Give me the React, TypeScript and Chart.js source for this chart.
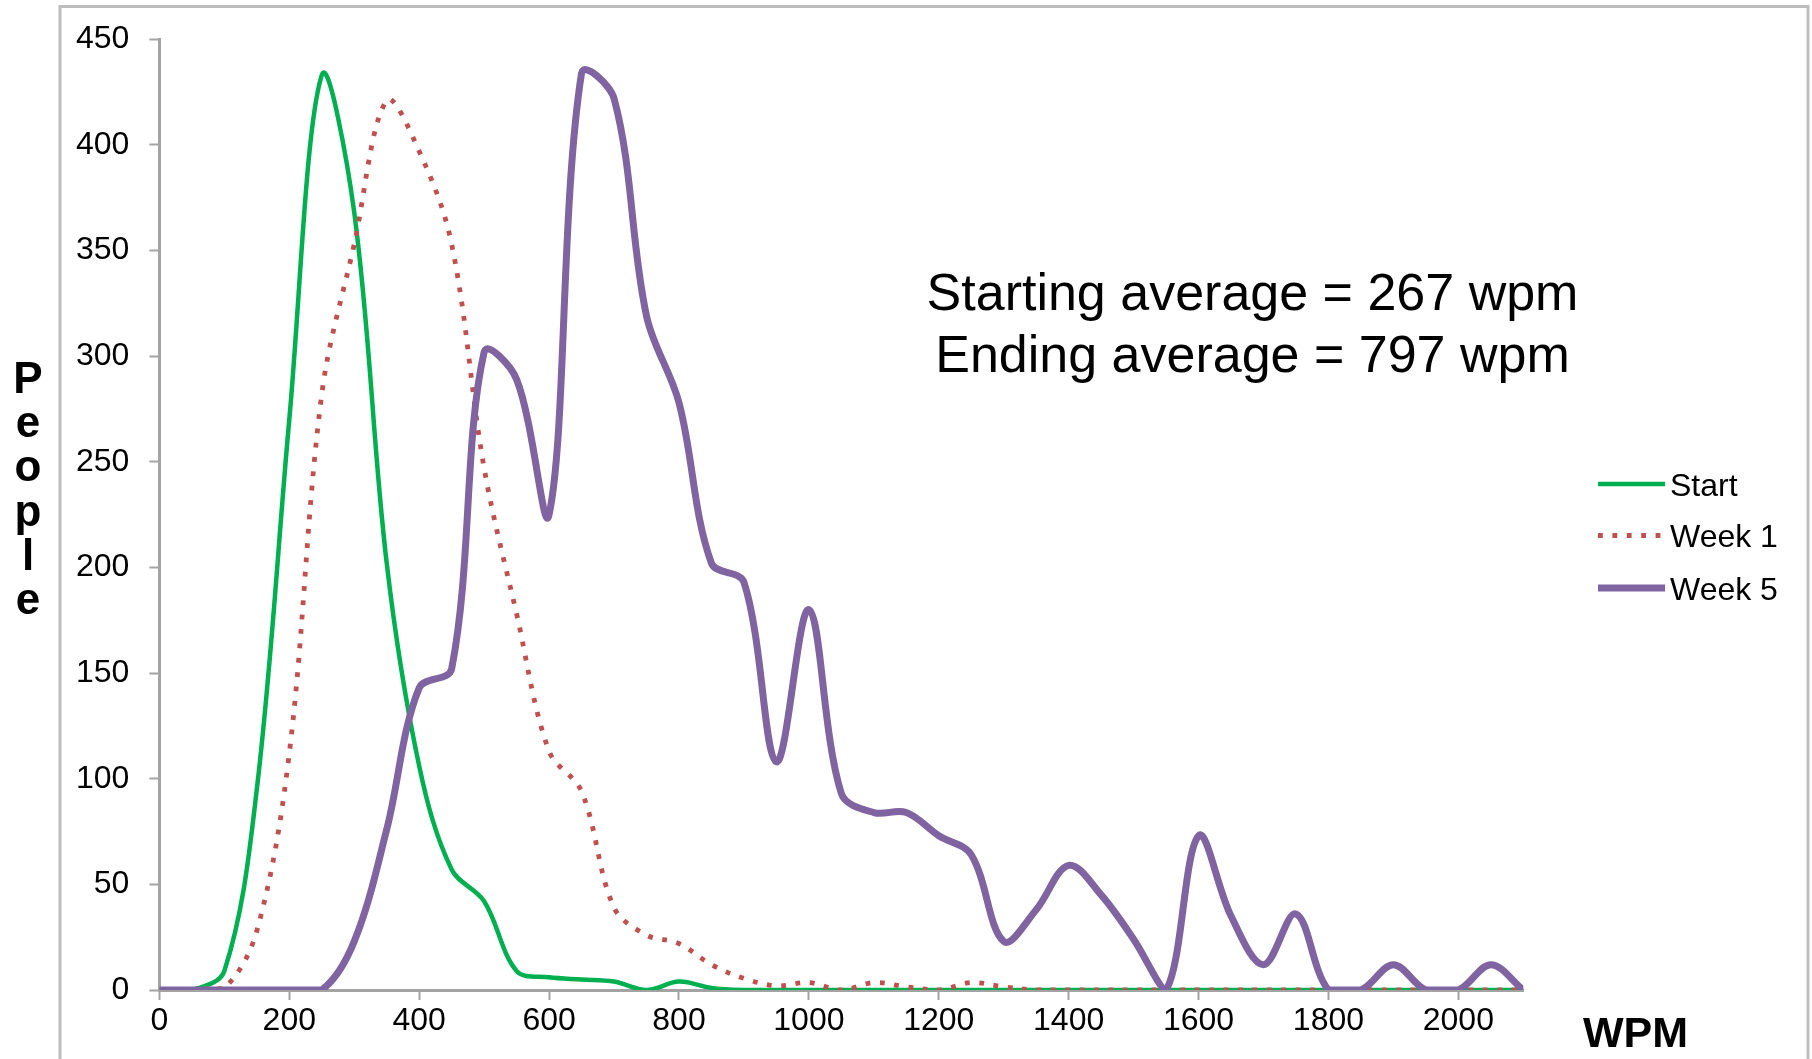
import React, { useEffect, useRef } from "react";
import { Chart, registerables } from "chart.js";

Chart.register(...registerables);

// ---- data ----
const wpm = [
  0, 50, 100, 150, 200, 250, 300, 350, 400, 450, 500, 550, 600, 650, 700, 750, 800, 850, 900, 950,
  1000, 1050, 1100, 1150, 1200, 1250, 1300, 1350, 1400, 1450, 1500, 1550, 1600, 1650, 1700, 1750,
  1800, 1850, 1900, 1950, 2000, 2050, 2100,
];

const startPeople = [
  0, 0, 9, 95, 270, 433, 368, 202, 106, 57, 42, 9, 6, 5, 4, 0, 4, 1, 0, 0,
  0, 0, 0, 0, 0, 0, 0, 0, 0, 0, 0, 0, 0, 0, 0, 0,
  0, 0, 0, 0, 0, 0, 0,
];

const week1People = [
  0, 0, 1, 28, 112, 282, 353, 421, 397, 353, 247, 178, 113, 94, 39, 26, 22, 12, 5.5, 2,
  3.5, 0, 3.5, 1.5, 0, 3.5, 1.5, 0, 0, 0, 0, 0, 0, 0, 0, 0,
  0, 0, 0, 0, 0, 0, 0,
];

const week5People = [
  0, 0, 0, 0, 0, 0, 23, 76, 143, 152, 302, 289, 225, 434, 422, 319, 278, 202, 193, 108,
  180, 93, 84, 84, 73, 64, 23, 38, 59, 45, 24, 0, 73, 35, 12, 36,
  0, 0, 12, 0, 0, 12, 0,
];

const seriesNames = ["Start", "Week 1", "Week 5"];
const xTickValues = [0, 200, 400, 600, 800, 1000, 1200, 1400, 1600, 1800, 2000];
const yTickValues = [0, 50, 100, 150, 200, 250, 300, 350, 400, 450];
const notes = ["Starting average = 267 wpm", "Ending average = 797 wpm"];
const xTitle = "WPM";
const yTitle = "People";

// ---- styles ----
const FONT = "'Liberation Sans', Arial, Helvetica, sans-serif";
const GREEN = "#00B050";
const RED = "#C0504D";
const PURPLE = "#8064A2";
const AXIS = "#A3A3A3";
const FRAME = "#BDBDBD";

const W = 1812;
const H = 1059;

const decorPlugin = {
  id: "decor",
  beforeDraw(chart: any) {
    const ctx = chart.ctx;
    ctx.save();
    ctx.fillStyle = "#ffffff";
    ctx.fillRect(0, 0, chart.width, chart.height);
    ctx.strokeStyle = FRAME;
    ctx.lineWidth = 3;
    ctx.strokeRect(60, 6.5, 1748, 1070);
    ctx.restore();
  },
  afterDraw(chart: any) {
    const ctx = chart.ctx;
    ctx.save();
    // annotation
    ctx.fillStyle = "#000";
    ctx.font = `52px ${FONT}`;
    ctx.textAlign = "center";
    ctx.textBaseline = "alphabetic";
    ctx.fillText(notes[0], 1252.5, 309.5);
    ctx.fillText(notes[1], 1252.5, 371.5);

    // legend
    const rowsY = [484, 535.5, 588];
    chart.data.datasets.forEach((ds: any, i: number) => {
      const y = rowsY[i];
      ctx.save();
      ctx.beginPath();
      ctx.strokeStyle = ds.borderColor;
      ctx.lineWidth = ds.borderWidth;
      ctx.lineCap = "butt";
      ctx.setLineDash(ds.borderDash || []);
      ctx.moveTo(1598, y);
      ctx.lineTo(1665, y);
      ctx.stroke();
      ctx.restore();
      ctx.fillStyle = "#000";
      ctx.font = `32px ${FONT}`;
      ctx.textAlign = "left";
      ctx.fillText(ds.label, 1670, y + 11.5);
    });

    // x title
    ctx.font = `bold 43px ${FONT}`;
    ctx.textAlign = "left";
    ctx.fillText(xTitle, 1583, 1047);

    // y title, stacked letters
    ctx.font = `bold 44px ${FONT}`;
    ctx.textAlign = "center";
    yTitle.split("").forEach((ch, i) => {
      ctx.fillText(ch, 28, 392.7 + i * 44.3);
    });
    ctx.restore();
  },
};

export default function App() {
  const ref = useRef<HTMLCanvasElement | null>(null);

  useEffect(() => {
    if (!ref.current) return;
    Chart.defaults.font.family = FONT;
    const mk = (vals: number[]) => wpm.map((x, i) => ({ x, y: vals[i] }));
    const chart = new Chart(ref.current, {
      type: "line",
      data: {
        datasets: [
          {
            label: seriesNames[0],
            data: mk(startPeople),
            borderColor: GREEN,
            backgroundColor: GREEN,
            borderWidth: 4.5,
            tension: 0.35,
            pointRadius: 0,
            fill: false,
            order: 2,
          },
          {
            label: seriesNames[1],
            data: mk(week1People),
            borderColor: RED,
            backgroundColor: RED,
            borderWidth: 4.8,
            borderDash: [4.8, 9.6],
            borderCapStyle: "butt",
            tension: 0.35,
            pointRadius: 0,
            fill: false,
            order: 1,
          },
          {
            label: seriesNames[2],
            data: mk(week5People),
            borderColor: PURPLE,
            backgroundColor: PURPLE,
            borderWidth: 7,
            tension: 0.35,
            pointRadius: 0,
            fill: false,
            order: 0,
          },
        ],
      },
      options: {
        animation: false,
        responsive: false,
        devicePixelRatio: 1,
        layout: { padding: { left: 0, top: 38.5, right: 288.7, bottom: 0 } },
        plugins: {
          legend: { display: false },
          tooltip: { enabled: false },
          title: { display: false },
        },
        scales: {
          x: {
            type: "linear",
            min: 0,
            max: 2100,
            afterBuildTicks: (s: any) => {
              s.ticks = xTickValues.map((v) => ({ value: v }));
            },
            afterFit: (s: any) => {
              s.height = 69;
            },
            grid: {
              drawOnChartArea: false,
              drawTicks: true,
              tickLength: 10,
              tickColor: AXIS,
              tickWidth: 2,
            },
            border: { display: true, color: AXIS, width: 3 },
            ticks: {
              color: "#000",
              font: { size: 32, family: FONT },
              padding: 2,
              maxRotation: 0,
              autoSkip: false,
              callback: (v: any) => String(v),
            },
          },
          y: {
            type: "linear",
            min: 0,
            max: 450,
            afterBuildTicks: (s: any) => {
              s.ticks = yTickValues.map((v) => ({ value: v }));
            },
            afterFit: (s: any) => {
              s.width = 159.4;
            },
            grid: {
              drawOnChartArea: false,
              drawTicks: true,
              tickLength: 10,
              tickColor: AXIS,
              tickWidth: 2,
            },
            border: { display: true, color: AXIS, width: 3 },
            ticks: {
              color: "#000",
              font: { size: 32, family: FONT },
              padding: 20,
              autoSkip: false,
              callback: (v: any) => String(v),
            },
          },
        },
      },
      plugins: [decorPlugin],
    } as any);
    return () => chart.destroy();
  }, []);

  return (
    <div style={{ position: "absolute", left: 0, top: 0, width: W, height: H, background: "#fff" }}>
      <canvas ref={ref} width={W} height={H} style={{ display: "block", width: W, height: H }} />
    </div>
  );
}
